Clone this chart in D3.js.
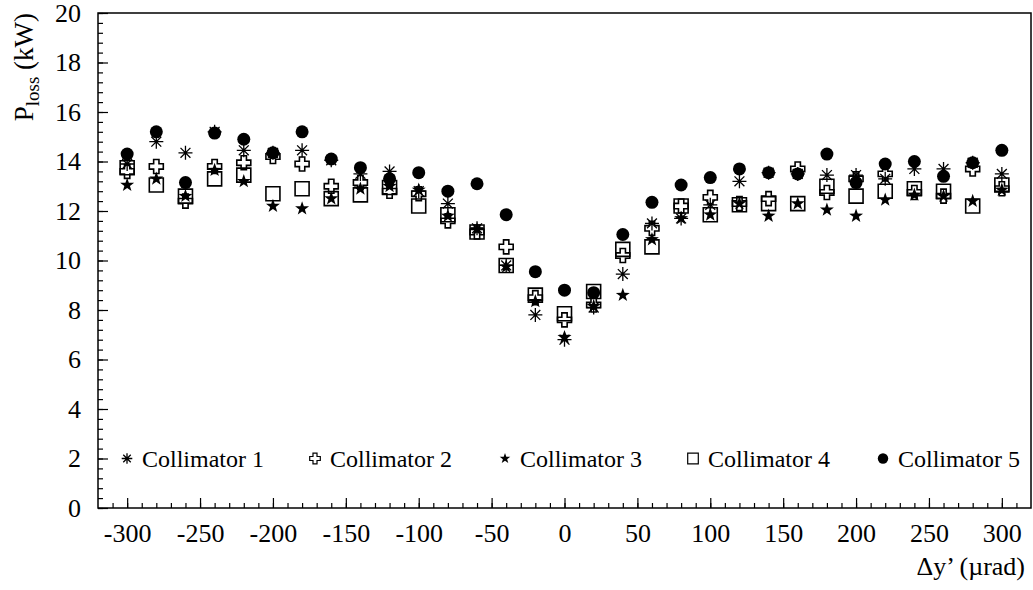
<!DOCTYPE html>
<html>
<head>
<meta charset="utf-8">
<script src="https://cdn.jsdelivr.net/npm/d3@7"></script>
<style>
  body { margin: 0; background: #fff; }
  svg text { font-family: "Liberation Serif", "DejaVu Serif", serif !important; fill: #000; }
</style>
</head>
<body>
<div id="chart"></div>
<script>
const angles = d3.range(-300, 301, 20);

const coll1 = [13.9, 14.8, 14.35, 15.2, 14.45, 14.35, 14.45, 14.05, 13.5, 13.6, 12.8, 12.3, 11.3, 9.8, 7.8, 6.8,
  8.1, 9.45, 11.5, 11.7, 12.25, 13.2, 13.55, 13.5, 13.45, 13.45, 13.3, 13.7, 13.7, 13.95, 13.5];
const coll2 = [13.6, 13.8, 12.4, 13.8, 13.95, 14.2, 13.9, 13.0, 13.15, 12.8, 12.7, 11.6, 11.15, 10.55, 8.5, 7.6,
  8.2, 10.2, 11.3, 12.2, 12.55, 12.3, 12.5, 13.7, 12.75, 13.3, 13.5, 12.75, 12.6, 13.7, 12.9];
const coll3 = [13.05, 13.3, 12.6, 13.65, 13.2, 12.2, 12.1, 12.5, 12.9, 13.0, 12.85, 11.8, 11.25, 9.75, 8.35, 6.9,
  8.15, 8.6, 10.85, 11.7, 11.85, 12.3, 11.8, 12.3, 12.05, 11.8, 12.45, 12.65, 12.6, 12.4, 12.85];
const coll4 = [13.75, 13.05, 12.6, 13.3, 13.45, 12.7, 12.9, 12.5, 12.65, 12.95, 12.2, 11.85, 11.15, 9.8, 8.6, 7.85,
  8.75, 10.45, 10.55, 12.2, 11.85, 12.25, 12.3, 12.3, 13.0, 12.6, 12.8, 12.9, 12.8, 12.2, 13.05];
const coll5 = [14.3, 15.2, 13.15, 15.15, 14.9, 14.35, 15.2, 14.1, 13.75, 13.3, 13.55, 12.8, 13.1, 11.85, 9.55, 8.8,
  8.7, 11.05, 12.35, 13.05, 13.35, 13.7, 13.55, 13.5, 14.3, 13.15, 13.9, 14.0, 13.4, 13.95, 14.45];

const seriesNames = ["Collimator 1", "Collimator 2", "Collimator 3", "Collimator 4", "Collimator 5"];
const seriesValues = [coll1, coll2, coll3, coll4, coll5];
const markerTypes = ["asterisk", "opencross", "star", "opensquare", "circle"];

const xTicks = d3.range(-300, 301, 50);
const yTicks = d3.range(0, 21, 2);

const width = 1033, height = 590;
const mLeft = 98, mRight = 1031, mTop = 13, mBottom = 508;
const serif = "'Liberation Serif', 'DejaVu Serif', serif";

const svg = d3.select("#chart").append("svg")
  .attr("width", width)
  .attr("height", height);

const x = d3.scaleLinear().domain([-320, 320]).range([mLeft, mRight]);
const y = d3.scaleLinear().domain([0, 20]).range([mBottom, mTop]);

// marker paths, s = half size
function markerPath(type, s) {
  const p = d3.path();
  if (type === "asterisk") {
    p.moveTo(0, -s); p.lineTo(0, s);
    for (const ang of [Math.PI / 4, -Math.PI / 4]) {
      p.moveTo(-s * Math.cos(ang), -s * Math.sin(ang));
      p.lineTo(s * Math.cos(ang), s * Math.sin(ang));
    }
    p.moveTo(-s, 0); p.lineTo(s, 0);
  } else if (type === "opencross") {
    const w = s * 0.38;
    p.moveTo(-w, -s); p.lineTo(w, -s); p.lineTo(w, -w); p.lineTo(s, -w); p.lineTo(s, w);
    p.lineTo(w, w); p.lineTo(w, s); p.lineTo(-w, s); p.lineTo(-w, w); p.lineTo(-s, w);
    p.lineTo(-s, -w); p.lineTo(-w, -w); p.closePath();
  } else if (type === "star") {
    for (let i = 0; i < 10; i++) {
      const r = i % 2 === 0 ? s * 1.05 : s * 0.42;
      const ang = -Math.PI / 2 + i * Math.PI / 5;
      if (i === 0) p.moveTo(r * Math.cos(ang), r * Math.sin(ang));
      else p.lineTo(r * Math.cos(ang), r * Math.sin(ang));
    }
    p.closePath();
  } else if (type === "opensquare") {
    p.rect(-s, -s, 2 * s, 2 * s);
  } else {
    p.arc(0, 0, s, 0, 2 * Math.PI);
  }
  return p.toString();
}

function styleMarker(sel, type) {
  if (type === "asterisk") sel.attr("fill", "none").attr("stroke", "#000").attr("stroke-width", 1.3);
  else if (type === "opencross" || type === "opensquare") sel.attr("fill", "none").attr("stroke", "#000").attr("stroke-width", 1.6);
  else sel.attr("fill", "#000").attr("stroke", "none");
}

const fmt = d => String(d); // plain hyphen for negatives

// minor ticks
svg.append("g")
  .attr("transform", `translate(0,${mBottom})`)
  .call(d3.axisBottom(x).tickValues(d3.range(-310, 320, 10)).tickSize(-5).tickFormat(""))
  .call(g => g.select(".domain").remove());
svg.append("g")
  .attr("transform", `translate(${mLeft},0)`)
  .call(d3.axisLeft(y).tickValues(d3.range(0, 20.01, 0.4)).tickSize(-5).tickFormat(""))
  .call(g => g.select(".domain").remove());

// major ticks + labels
svg.append("g")
  .attr("transform", `translate(0,${mBottom})`)
  .attr("font-family", serif)
  .call(d3.axisBottom(x).tickValues(xTicks).tickSize(-10).tickPadding(16).tickFormat(fmt))
  .call(g => g.select(".domain").remove())
  .call(g => g.attr("font-family", serif).attr("font-size", 26));
svg.append("g")
  .attr("transform", `translate(${mLeft},0)`)
  .call(d3.axisLeft(y).tickValues(yTicks).tickSize(-10).tickPadding(17).tickFormat(fmt))
  .call(g => g.select(".domain").remove())
  .call(g => g.attr("font-family", serif).attr("font-size", 26));

svg.selectAll(".tick line").attr("stroke", "#000").attr("stroke-width", 1.2);

// frame
svg.append("rect")
  .attr("x", mLeft).attr("y", mTop)
  .attr("width", mRight - mLeft).attr("height", mBottom - mTop)
  .attr("fill", "none").attr("stroke", "#000").attr("stroke-width", 1.5);

// data
seriesValues.forEach((vals, i) => {
  const type = markerTypes[i];
  const pts = svg.append("g").selectAll("path")
    .data(vals.map((v, j) => ({ a: angles[j], v })))
    .join("path")
    .attr("transform", d => `translate(${x(d.a)},${y(d.v)})`)
    .attr("d", markerPath(type, type === "circle" ? 6.5 : 7));
  styleMarker(pts, type);
});

// legend
const legendX = [127, 315, 505, 693, 883];
const legY = y(2);
seriesNames.forEach((name, i) => {
  const type = markerTypes[i];
  const m = svg.append("path")
    .attr("transform", `translate(${legendX[i]},${legY})`)
    .attr("d", markerPath(type, type === "circle" ? 5.2 : 5.3));
  styleMarker(m, type);
  if (type === "opencross" || type === "opensquare") m.attr("stroke-width", 1.2);
  svg.append("text")
    .attr("x", legendX[i] + 15)
    .attr("y", legY + 8)
    .attr("font-family", serif)
    .attr("font-size", 24)
    .text(name);
});

// axis titles
svg.append("text")
  .attr("x", 1025).attr("y", 575)
  .attr("text-anchor", "end")
  .attr("font-family", serif)
  .attr("font-size", 26)
  .text("Δy’ (µrad)");

const yt = svg.append("text")
  .attr("transform", `translate(33,${mTop}) rotate(-90)`)
  .attr("text-anchor", "end")
  .attr("font-family", serif)
  .attr("font-size", 27);
yt.append("tspan").text("P");
yt.append("tspan").attr("font-size", 19).attr("dy", 6).text("loss");
yt.append("tspan").attr("dy", -6).text(" (kW)");
</script>
</body>
</html>
